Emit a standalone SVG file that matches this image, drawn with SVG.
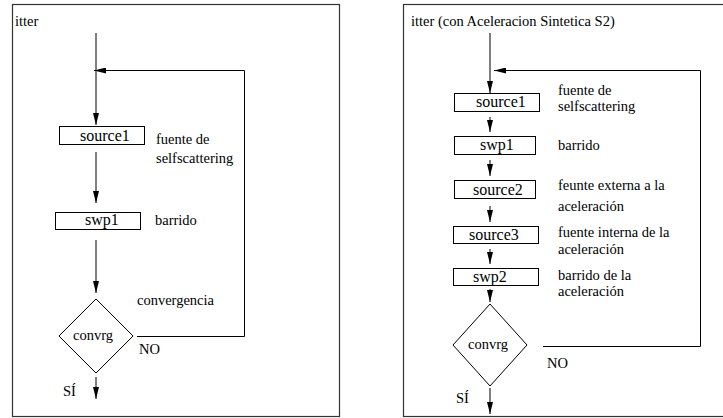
<svg xmlns="http://www.w3.org/2000/svg" width="723" height="418" viewBox="0 0 723 418" font-family="Liberation Serif, Times New Roman, DejaVu Serif, serif">
<style>
text{font-family:'Liberation Serif','Times New Roman','DejaVu Serif',serif;font-size:14.5px;fill:#000}
.bt{font-size:16px}
.box{fill:#fff;stroke:#000;stroke-width:1}
.frame{fill:#fff;stroke:#333;stroke-width:1.2}
.ln{fill:none;stroke:#000;stroke-width:1}
</style>
<defs>
<marker id="ah" markerWidth="12" markerHeight="6" refX="12" refY="3" orient="auto" markerUnits="userSpaceOnUse">
<polygon points="0,0 12,3 0,6" fill="#000"/>
</marker>
</defs>
<rect width="723" height="418" fill="#fff"/>
<g id="frame-left"><rect class="frame" x="12.5" y="4.5" width="327" height="412"/><text x="15" y="26">itter</text></g>
<g id="frame-right"><rect class="frame" x="403.5" y="4.5" width="325" height="412"/><text x="411" y="26">itter (con Aceleracion Sintetica S2)</text></g>
<g id="connectors">
<line class="ln" x1="96" y1="33" x2="96" y2="125" marker-end="url(#ah)"/>
<line class="ln" x1="96" y1="152" x2="96" y2="203" marker-end="url(#ah)"/>
<line class="ln" x1="96" y1="240" x2="96" y2="293" marker-end="url(#ah)"/>
<line class="ln" x1="96" y1="377" x2="96" y2="399" marker-end="url(#ah)"/>
<polyline class="ln" points="137,336.5 244.5,336.5 244.5,70.5 94,70.5" marker-end="url(#ah)"/>
<line class="ln" x1="490" y1="33" x2="490" y2="93" marker-end="url(#ah)"/>
<line class="ln" x1="490" y1="117" x2="490" y2="132" marker-end="url(#ah)"/>
<line class="ln" x1="490" y1="160" x2="490" y2="176" marker-end="url(#ah)"/>
<line class="ln" x1="490" y1="206" x2="490" y2="222" marker-end="url(#ah)"/>
<line class="ln" x1="490" y1="249" x2="490" y2="264" marker-end="url(#ah)"/>
<line class="ln" x1="490" y1="289" x2="490" y2="302" marker-end="url(#ah)"/>
<line class="ln" x1="490" y1="388" x2="490" y2="414" marker-end="url(#ah)"/>
<polyline class="ln" points="543,346.5 700.5,346.5 700.5,70.5 494,70.5" marker-end="url(#ah)"/>
</g>
<g id="l-source1"><rect class="box" x="59.5" y="126.5" width="85" height="18"/><text class="bt" x="80" y="141">source1</text><text x="156" y="144">fuente de</text><text x="156" y="163">selfscattering</text></g>
<g id="l-swp1"><rect class="box" x="55.5" y="212.5" width="85" height="17"/><text class="bt" x="85" y="225">swp1</text><text x="155" y="225">barrido</text></g>
<g id="l-convrg"><polygon class="box" points="96,299 133,336 96,373 59,336"/><text x="73" y="340">convrg</text><text x="137" y="305">convergencia</text><text x="139" y="354">NO</text><text x="63" y="396">SÍ</text></g>
<g id="r-source1"><rect class="box" x="454.5" y="93.5" width="85" height="18"/><text class="bt" x="476" y="107">source1</text><text x="558" y="95">fuente de</text><text x="558" y="111">selfscattering</text></g>
<g id="r-swp1"><rect class="box" x="454.5" y="136.5" width="81" height="18"/><text class="bt" x="480" y="150">swp1</text><text x="558" y="150">barrido</text></g>
<g id="r-source2"><rect class="box" x="454.5" y="180.5" width="81" height="18"/><text class="bt" x="473" y="195">source2</text><text x="558" y="190">feunte externa a la</text><text x="558" y="211">aceleración</text></g>
<g id="r-source3"><rect class="box" x="453.5" y="226.5" width="85" height="17"/><text class="bt" x="469" y="240">source3</text><text x="558" y="237">fuente interna de la</text><text x="558" y="254">aceleración</text></g>
<g id="r-swp2"><rect class="box" x="453.5" y="268.5" width="85" height="17"/><text class="bt" x="473" y="282">swp2</text><text x="558" y="280">barrido de la</text><text x="558" y="296">aceleración</text></g>
<g id="r-convrg"><polygon class="box" points="490,304 527,345 490,386 453,345"/><text x="468" y="349">convrg</text><text x="547" y="368">NO</text><text x="456" y="403">SÍ</text></g>
</svg>
